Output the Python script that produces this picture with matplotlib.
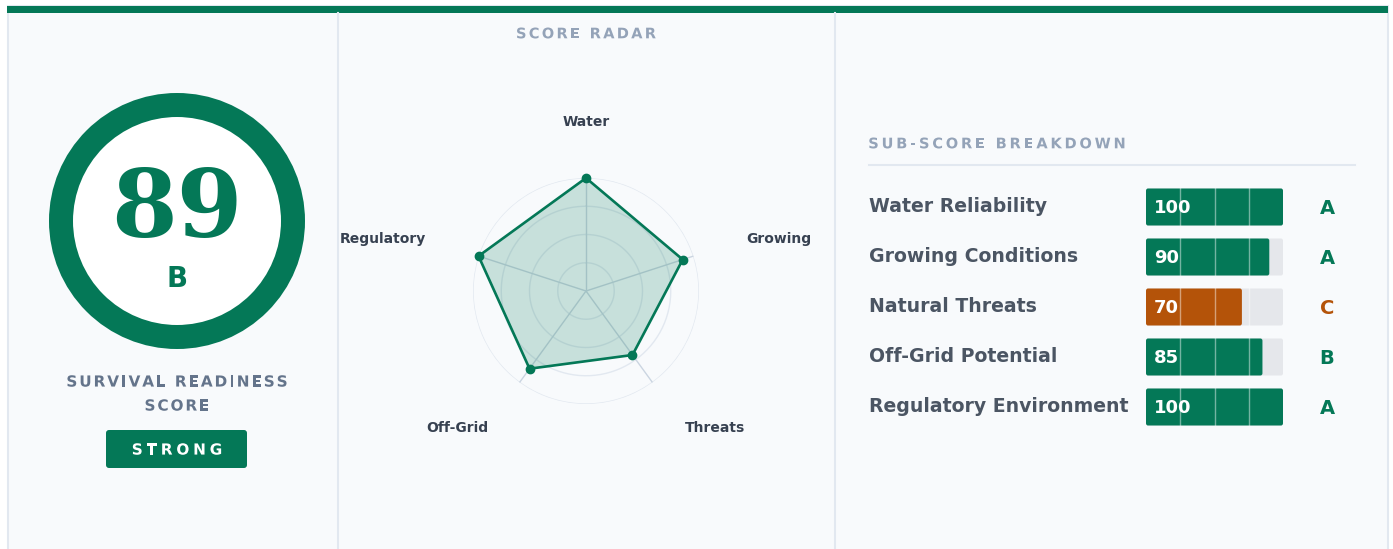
import numpy as np
import matplotlib
matplotlib.use("Agg")
import matplotlib.pyplot as plt
from matplotlib.patches import Rectangle, FancyBboxPatch, Circle, PathPatch
from matplotlib.font_manager import FontProperties
from matplotlib.textpath import TextPath
from matplotlib.transforms import Affine2D

# data
overall_score = 89
overall_grade = "B"
overall_label = "STRONG"
radar_axes = ["Water", "Growing", "Threats", "Off-Grid", "Regulatory"]
radar_values = [100, 90, 70, 85, 100]
sub_labels = ["Water Reliability", "Growing Conditions", "Natural Threats",
              "Off-Grid Potential", "Regulatory Environment"]
sub_values = [100, 90, 70, 85, 100]
sub_grades = ["A", "A", "C", "B", "A"]

GREEN = "#047857"
ORANGE = "#b45309"
DPI = 100
W, H = 1393, 549


def grade_color(g):
    return ORANGE if g == "C" else GREEN


def tracked(ax, xc, y, s, size, color, spacing, weight="bold", family="DejaVu Sans"):
    """Letter-spaced text centred on xc, drawn as glyph paths (pixel coords)."""
    prop = FontProperties(family=family, weight=weight, size=size)
    px = size * DPI / 72
    ref = TextPath((0, 0), "HH", prop=prop, size=px).get_extents().width
    capH = TextPath((0, 0), "H", prop=prop, size=px).get_extents().height
    advs = [TextPath((0, 0), "H" + c + "H", prop=prop, size=px).get_extents().width - ref for c in s]
    total = sum(advs) + spacing * (len(s) - 1)
    x = xc - total / 2
    for c, a in zip(s, advs):
        if c != " ":
            tp = TextPath((0, 0), c, prop=prop, size=px)
            tr = Affine2D().scale(1, -1).translate(x, y + capH / 2)
            ax.add_patch(PathPatch(tr.transform_path(tp), facecolor=color, edgecolor="none", zorder=5))
        x += a + spacing


fig = plt.figure(figsize=(W / DPI, H / DPI), dpi=DPI)
fig.patch.set_facecolor("white")
ax = fig.add_axes([0, 0, 1, 1])
ax.set_xlim(0, W)
ax.set_ylim(H, 0)
ax.axis("off")

# card background + top bar + dividers
ax.add_patch(Rectangle((7.5, 6), 1380, 560, facecolor="#f8fafc", edgecolor="#e2e8f0", lw=1.5, zorder=0))
ax.add_patch(Rectangle((7, 6), 1381, 7, facecolor=GREEN, edgecolor="none", zorder=1))
for xd in (338, 835):
    ax.plot([xd, xd], [13, H], color="#e2e8f0", lw=1.5, zorder=1)

# left: gauge ring
cx, cy = 177, 221
ax.add_patch(Circle((cx, cy), 116, facecolor="white", edgecolor=GREEN, lw=24 * 72 / DPI, zorder=2))
ax.text(cx, 211, str(overall_score), family="DejaVu Serif", weight="bold", fontsize=68,
        color=GREEN, ha="center", va="center", zorder=3)
ax.text(cx, 279, overall_grade, weight="bold", fontsize=20, color=GREEN, ha="center", va="center", zorder=3)
tracked(ax, cx, 381, "SURVIVAL READINESS", 11, "#64748b", 1.9)
tracked(ax, cx, 405, "SCORE", 11, "#64748b", 1.9)
ax.add_patch(FancyBboxPatch((106, 430), 141, 38, boxstyle="round,pad=0,rounding_size=3",
                            facecolor=GREEN, edgecolor="none", zorder=2))
tracked(ax, cx, 449, overall_label, 11, "white", 3.8)

# middle: radar
tracked(ax, 586, 33, "SCORE RADAR", 10.5, "#94a3b8", 2.3)
rc_x, rc_y, rr = 586, 291, 113
pax = fig.add_axes([(rc_x - rr) / W, 1 - (rc_y + rr) / H, 2 * rr / W, 2 * rr / H], projection="polar")
pax.set_facecolor("none")
pax.set_theta_zero_location("N")
pax.set_theta_direction(-1)
ang = np.linspace(0, 2 * np.pi, len(radar_axes), endpoint=False)
vals = np.array(radar_values, dtype=float)
ang_c = np.append(ang, ang[0])
vals_c = np.append(vals, vals[0])
pax.set_ylim(0, 100)
for r in (25, 50, 75, 100):
    t = np.linspace(0, 2 * np.pi, 200)
    pax.plot(t, np.full_like(t, r), color="#e2e8f0", lw=1, zorder=1)
for a in ang:
    pax.plot([a, a], [0, 100], color="#cbd5e1", lw=1, zorder=1)
pax.fill(ang_c, vals_c, color=GREEN, alpha=0.2, zorder=2)
pax.plot(ang_c, vals_c, color=GREEN, lw=1.9, zorder=3)
pax.scatter(ang, vals, s=36, color=GREEN, zorder=4, clip_on=False)
pax.grid(False)
pax.spines["polar"].set_visible(False)
pax.set_xticks([])
pax.set_yticks([])
label_pos = [(586, 122, "center"), (779, 239, "center"), (715, 428, "center"),
             (457, 428, "center"), (426, 239, "right")]
clip = Rectangle((344, 0), 490, H, transform=ax.transData)
for name, (lx, ly, ha) in zip(radar_axes, label_pos):
    t = ax.text(lx, ly, name, weight="bold", fontsize=10, color="#374151", ha=ha, va="center", zorder=5)
    t.set_clip_path(clip)

# right: sub-score bars
tracked(ax, 997, 143, "SUB-SCORE BREAKDOWN", 10.5, "#94a3b8", 2.8)
ax.plot([869, 1355], [165, 165], color="#e2e8f0", lw=1.5)
bx0, bx1 = 1146, 1283
ys = [207, 257, 307, 357, 407]
bax = fig.add_axes([bx0 / W, 1 - 430 / H, (bx1 - bx0) / W, (430 - 184) / H])
bax.set_xlim(0, 100)
bax.set_ylim(430, 184)
bax.axis("off")
bax.set_facecolor("none")
for lab, v, g, yy in zip(sub_labels, sub_values, sub_grades, ys):
    c = grade_color(g)
    bax.add_patch(FancyBboxPatch((0, yy - 18.5), 100, 37, boxstyle="round,pad=0,rounding_size=1.5",
                                 mutation_aspect=1.5, facecolor="#e5e7eb", edgecolor="none", zorder=1))
    bax.add_patch(FancyBboxPatch((0, yy - 18.5), v, 37, boxstyle="round,pad=0,rounding_size=1.5",
                                 mutation_aspect=1.5, facecolor=c, edgecolor="none", zorder=2))
    for q in (25, 50, 75):
        bax.plot([q, q], [yy - 18.5, yy + 18.5], color="white", alpha=0.45, lw=1, zorder=3)
    bax.text(6, yy + 1, str(v), weight="bold", fontsize=13, color="white", ha="left", va="center", zorder=4)
    ax.text(869, yy, lab, weight="bold", fontsize=13.6, color="#4b5563", ha="left", va="center")
    ax.text(1327, yy + 1, g, weight="bold", fontsize=14, color=c, ha="center", va="center")

fig.savefig("out.png", dpi=DPI, facecolor="white")
